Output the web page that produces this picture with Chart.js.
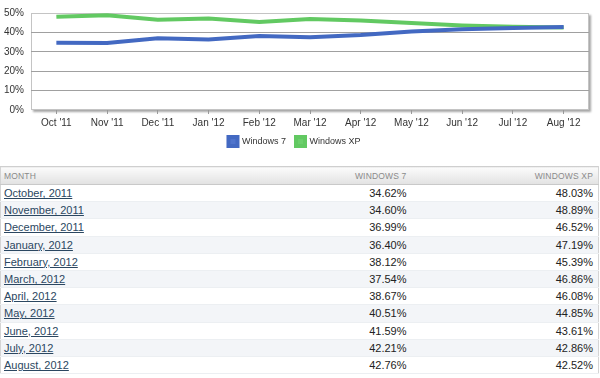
<!DOCTYPE html>
<html>
<head>
<meta charset="utf-8">
<script src="https://cdn.jsdelivr.net/npm/chart.js@4"></script>
<style>
  html,body{margin:0;padding:0;background:#fff;width:600px;height:378px;overflow:hidden;
    font-family:"Liberation Sans",Arial,sans-serif}
  #wrap{position:absolute;left:0;top:0;width:600px;height:156px}
  #tbl{position:absolute;left:0;top:166px;width:598px;border-collapse:collapse;table-layout:fixed;
    border:1px solid #d4d4d4;border-top:1px solid #cfcfcf}
  #tbl th{height:17px;padding:0 5px 0 3px;font-size:8.5px;font-weight:normal;color:#8a8a8a;letter-spacing:.02em;
    background:linear-gradient(#fbfbfb,#e2e2e2);border-bottom:1px solid #c9c9c9;text-align:right}
  #tbl th.l{text-align:left}
  #tbl td{height:16.2px;padding:0 5px 0 3px;font-size:11px;color:#222;text-align:right;border-bottom:1px solid #eceff2}
  #tbl td.l{text-align:left}
  #tbl td a{color:#2b4761;text-decoration:underline}
  #tbl tr:nth-child(even) td{background:#f3f5f8}
</style>
</head>
<body>
<div id="wrap"><canvas id="c"></canvas></div>
<table id="tbl">
  <colgroup><col style="width:250px"><col style="width:161px"><col style="width:187px"></colgroup>
  <thead><tr><th class="l">MONTH</th><th>WINDOWS 7</th><th>WINDOWS XP</th></tr></thead>
  <tbody id="tb"></tbody>
</table>
<script>
// Windows 7 vs Windows XP desktop share, Oct 2011 - Aug 2012
const tickLabels = ["Oct '11", "Nov '11", "Dec '11", "Jan '12", "Feb '12", "Mar '12",
                    "Apr '12", "May '12", "Jun '12", "Jul '12", "Aug '12"];
const monthNames = ["October, 2011", "November, 2011", "December, 2011", "January, 2012", "February, 2012",
                    "March, 2012", "April, 2012", "May, 2012", "June, 2012", "July, 2012", "August, 2012"];
const win7 = [34.62, 34.60, 36.99, 36.40, 38.12, 37.54, 38.67, 40.51, 41.59, 42.21, 42.76];
const winXP = [48.03, 48.89, 46.52, 47.19, 45.39, 46.86, 46.08, 44.85, 43.61, 42.86, 42.52];

// table below the chart
document.getElementById("tb").innerHTML = monthNames.map((m, i) =>
  `<tr><td class="l"><a href="#">${m}</a></td><td>${win7[i].toFixed(2)}%</td><td>${winXP[i].toFixed(2)}%</td></tr>`).join("");

// white plot box with a soft drop shadow
const frame = {
  id: "frame",
  beforeDraw(chart) {
    const a = chart.chartArea, ctx = chart.ctx;
    ctx.save();
    ctx.shadowColor = "rgba(0,0,0,0.35)";
    ctx.shadowOffsetX = 2; ctx.shadowOffsetY = 2; ctx.shadowBlur = 2;
    ctx.fillStyle = "#fff";
    ctx.fillRect(a.left, a.top, a.right - a.left, a.bottom - a.top);
    ctx.restore();
    ctx.save();
    ctx.strokeStyle = "#c4c4c4"; ctx.lineWidth = 1;
    ctx.strokeRect(a.left + 0.5, a.top + 0.5, a.right - a.left - 1, a.bottom - a.top - 1);
    ctx.restore();
  },
};

Chart.defaults.font.family = '"Liberation Sans", Arial, sans-serif';
new Chart(document.getElementById("c"), {
  type: "line",
  data: {
    labels: tickLabels,
    datasets: [
      { label: "Windows 7", data: win7, borderColor: "#4369c2", backgroundColor: "#4f74cc",
        borderWidth: 4, pointRadius: 0, tension: 0 },
      { label: "Windows XP", data: winXP, borderColor: "#62c962", backgroundColor: "#6ccf6c",
        borderWidth: 4, pointRadius: 0, tension: 0 },
    ],
  },
  options: {
    responsive: true, maintainAspectRatio: false, animation: false,
    layout: { padding: { top: 4, right: 11, left: 0, bottom: 0 } },
    plugins: {
      legend: {
        position: "bottom",
        labels: {
          boxWidth: 9, boxHeight: 9, padding: 5, color: "#333", font: { size: 9 },
          // a little extra room after the first entry
          generateLabels(chart) {
            const items = Chart.defaults.plugins.legend.labels.generateLabels(chart);
            items.forEach((it, i) => { if (i < items.length - 1) it.text += "\u00a0\u00a0"; });
            return items;
          },
        },
      },
      tooltip: { enabled: false },
    },
    scales: {
      x: {
        offset: true,
        grid: { display: true, offset: false, drawOnChartArea: false, tickLength: 4, color: "#999" },
        border: { display: false },
        ticks: { color: "#333", font: { size: 10 }, padding: 3, maxRotation: 0, autoSkip: false },
      },
      y: {
        min: 0, max: 50,
        afterFit: s => { s.width = 31; },
        grid: { color: ctx => (ctx.tick.value === 0 || ctx.tick.value === 50) ? "rgba(0,0,0,0)" : "#a0a0a0",
                drawTicks: false, lineWidth: 1 },
        border: { display: false },
        ticks: { stepSize: 10, color: "#333", font: { size: 10 }, padding: 7, callback: v => v + "%" },
      },
    },
  },
  plugins: [frame],
});
</script>
</body>
</html>
